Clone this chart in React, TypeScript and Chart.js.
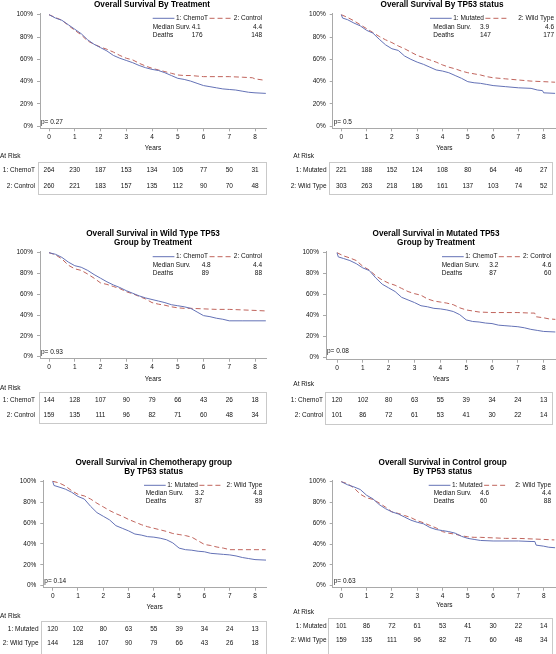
import React, { useEffect, useRef } from "react";
import { Chart, registerables } from "chart.js";

Chart.register(...registerables);

const FONT = '"Liberation Sans", Arial, Helvetica, sans-serif';
const BLUE = "#6472b6";
const RED = "#c0645c";
const AXIS = "#a9a9a9";
const TXT = "#111111";

// ---------- tick labels ----------
const yearTicks = [0, 1, 2, 3, 4, 5, 6, 7, 8];
const pctTicks = [0, 20, 40, 60, 80, 100];

// ---------- survival curves (years, % surviving) ----------
const allChemoT_t = [0, 0.25, 0.5, 0.75, 1, 1.25, 1.5, 1.75, 2, 2.25, 2.5, 2.75, 3, 3.25, 3.5, 3.75, 4, 4.25, 4.5, 4.75, 5, 5.25, 5.5, 5.75, 6, 6.25, 6.5, 6.75, 7, 7.25, 7.5, 7.75, 8, 8.42];
const allChemoT_s = [100, 97, 95, 91, 87, 83, 77.5, 73.5, 70.5, 67.5, 63.5, 61, 59, 57, 54.5, 52.5, 51, 50, 48, 45.5, 43, 42, 40.5, 38.5, 36.5, 35.5, 34.5, 33.5, 33, 32.5, 31.5, 30.5, 30, 29.5];

const allControl_t = [0, 0.25, 0.5, 0.75, 1, 1.25, 1.5, 1.75, 2, 2.25, 2.5, 2.75, 3, 3.25, 3.5, 3.75, 4, 4.25, 4.5, 4.75, 5, 5.25, 5.5, 5.75, 6, 6.5, 7, 7.5, 7.9, 8, 8.3];
const allControl_s = [100, 97.5, 95, 90.5, 86, 82, 76.5, 73.5, 71, 69, 66.5, 63.5, 61, 59.5, 56.5, 54, 52, 50.5, 49, 47.5, 46, 45.5, 45.5, 45, 44.5, 44.5, 44.5, 44, 43.5, 42.5, 41.5];

const allMutated_t = [0, 0.05, 0.25, 0.5, 0.75, 1, 1.25, 1.5, 1.75, 2, 2.25, 2.5, 2.75, 3, 3.25, 3.5, 3.75, 4, 4.25, 4.5, 4.75, 5, 5.25, 5.5, 5.75, 6, 6.5, 7, 7.5, 7.75, 7.95, 8, 8.45];
const allMutated_s = [100, 97, 95.5, 92.5, 90, 86, 83.5, 78, 73, 69.5, 68, 63, 60, 57.5, 55.5, 53, 50.5, 49.5, 48, 45.5, 43, 40, 39, 38.5, 37.5, 36.5, 35.5, 34.5, 34, 32.5, 32, 30, 29.5];

const allWild_t = [0, 0.25, 0.5, 0.75, 1, 1.25, 1.5, 1.75, 2, 2.25, 2.5, 2.75, 3, 3.25, 3.5, 3.75, 4, 4.25, 4.5, 4.75, 5, 5.25, 5.5, 5.75, 6, 6.5, 7, 7.5, 8, 8.45];
const allWild_s = [100, 97.5, 94.5, 91, 87.5, 84, 80.5, 77.5, 75, 72, 69.5, 66.5, 63.5, 61.5, 59.5, 57.5, 55, 53, 51.5, 49.5, 48, 47, 46, 44.5, 43.5, 42.5, 41.5, 40.5, 40, 39.5];

const wtChemoT_t = [0, 0.25, 0.5, 0.75, 1, 1.25, 1.5, 1.75, 2, 2.25, 2.5, 2.75, 3, 3.25, 3.5, 3.75, 4, 4.25, 4.5, 4.75, 5, 5.25, 5.5, 5.75, 6, 6.25, 6.5, 6.75, 7, 7.5, 8, 8.42];
const wtChemoT_s = [100, 98.5, 95.5, 91, 87.5, 86, 83, 79, 75.5, 72, 69, 66.5, 63.5, 61, 58.5, 56.5, 55, 53.5, 52, 50, 49, 48, 46.5, 43, 39.5, 38.5, 37, 36, 34.5, 34.5, 34.5, 34.5];

const wtControl_t = [0, 0.25, 0.5, 0.75, 1, 1.25, 1.5, 1.75, 2, 2.25, 2.5, 2.75, 3, 3.25, 3.5, 3.75, 4, 4.25, 4.5, 4.75, 5, 5.25, 5.5, 6, 6.5, 7, 7.5, 8, 8.42];
const wtControl_s = [100, 98, 94, 88, 84.5, 83, 79.5, 75.5, 71, 69.5, 67.5, 65.5, 62.5, 60.5, 58, 55.5, 52, 50.5, 49.5, 48, 47, 46.5, 46.5, 46, 45.5, 45.5, 45, 44.5, 44];

const mutChemoT_t = [0, 0.05, 0.25, 0.5, 0.75, 1, 1.25, 1.5, 1.75, 2, 2.25, 2.5, 2.75, 3, 3.25, 3.5, 3.75, 4, 4.25, 4.5, 4.75, 5, 5.25, 5.5, 5.75, 6, 6.25, 6.5, 6.75, 7, 7.25, 7.5, 7.75, 8, 8.45];
const mutChemoT_s = [100, 96, 94.5, 92.5, 89.5, 85.5, 83, 76, 70, 66.5, 63, 57.5, 55, 52.5, 49.5, 48.5, 47, 46.5, 45.5, 44, 41, 36, 34.5, 34, 33, 32.5, 31, 30.5, 30, 29.5, 28.5, 27, 26, 25, 24.5];

const mutControl_t = [0, 0.25, 0.5, 0.75, 1, 1.25, 1.5, 1.75, 2, 2.25, 2.5, 2.75, 3, 3.25, 3.5, 3.75, 4, 4.25, 4.5, 4.75, 5, 5.25, 5.5, 6, 7, 7.5, 7.65, 7.7, 8, 8.2, 8.45];
const mutControl_s = [100, 97, 95, 92.5, 87, 83.5, 78, 74, 71, 69, 66, 63, 61, 59.5, 56, 54, 53, 52, 50.5, 47.5, 45.5, 44.5, 43.5, 43, 43, 42.5, 42.5, 39, 38, 37, 36.5];

// ---------- at-risk counts ----------
const riskAllChemoT = [264, 230, 187, 153, 134, 105, 77, 50, 31];
const riskAllControl = [260, 221, 183, 157, 135, 112, 90, 70, 48];
const riskAllMutated = [221, 188, 152, 124, 108, 80, 64, 46, 27];
const riskAllWild = [303, 263, 218, 186, 161, 137, 103, 74, 52];
const riskWtChemoT = [144, 128, 107, 90, 79, 66, 43, 26, 18];
const riskWtControl = [159, 135, 111, 96, 82, 71, 60, 48, 34];
const riskMutChemoT = [120, 102, 80, 63, 55, 39, 34, 24, 13];
const riskMutControl = [101, 86, 72, 61, 53, 41, 30, 22, 14];

// ---------- summary statistics ----------
const mediansP1 = ["4.1", "4.4"];
const deathsP1 = ["176", "148"];
const mediansP2 = ["3.9", "4.6"];
const deathsP2 = ["147", "177"];
const mediansP3 = ["4.8", "4.4"];
const deathsP3 = ["89", "88"];
const mediansP4 = ["3.2", "4.6"];
const deathsP4 = ["87", "60"];
const mediansP5 = ["3.2", "4.8"];
const deathsP5 = ["87", "89"];
const mediansP6 = ["4.6", "4.4"];
const deathsP6 = ["60", "88"];
const pValues = ["p= 0.27", "p= 0.5", "p= 0.93", "p= 0.08", "p= 0.14", "p= 0.63"];

const treatLabels = ["1: ChemoT", "2: Control"];
const tp53Labels = ["1: Mutated", "2: Wild Type"];

// ---------- layout (page coordinates) ----------
type Geo = {
  cx: number; cy: number; cw: number; ch: number;
  plotL: number; plotR: number; y100: number; y0: number; x0: number; x8: number;
  titleX: number; titleY: number;
  legLineX: number; legX: number; valX: number; legR: number; legY: number; medY: number; deathY: number;
  pY: number; atRiskX: number; atRiskY: number;
  boxL: number; boxR: number; boxT: number; boxB: number; row1Y: number; row2Y: number; rowLabelR: number;
  tickY: number; yearsY: number;
};

const geoP1: Geo = { cx: 0, cy: 0, cw: 280, ch: 210, plotL: 40, plotR: 266, y100: 14.7, y0: 126.3, x0: 49, x8: 255, titleX: 152, titleY: 4.5, legLineX: 152.7, legX: 152.7, valX: 191.7, legR: 262, legY: 18.3, medY: 27.3, deathY: 35.3, pY: 122.3, atRiskX: 0, atRiskY: 156.7, boxL: 37.7, boxR: 265.7, boxT: 162.3, boxB: 194.3, row1Y: 170.7, row2Y: 186.3, rowLabelR: 35, tickY: 137, yearsY: 148.7 };
const geoP2: Geo = { cx: 280, cy: 0, cw: 290, ch: 210, plotL: 332.7, plotR: 556, y100: 14.7, y0: 126.3, x0: 341.3, x8: 543.7, titleX: 442, titleY: 4.5, legLineX: 430, legX: 433.3, valX: 480, legR: 554, legY: 18.3, medY: 27.3, deathY: 35.3, pY: 122, atRiskX: 293.3, atRiskY: 156.7, boxL: 329, boxR: 552, boxT: 162.3, boxB: 194.3, row1Y: 170.7, row2Y: 186.3, rowLabelR: 326.5, tickY: 137, yearsY: 148.7 };
const geoP3: Geo = { cx: 0, cy: 210, cw: 280, ch: 220, plotL: 40, plotR: 266, y100: 252.7, y0: 356.7, x0: 49, x8: 255, titleX: 153, titleY: 233.3, legLineX: 152.7, legX: 152.7, valX: 201.7, legR: 262, legY: 256.7, medY: 265.7, deathY: 273.3, pY: 352, atRiskX: 0, atRiskY: 388.3, boxL: 38.5, boxR: 265.7, boxT: 392.3, boxB: 423.3, row1Y: 400.3, row2Y: 415.3, rowLabelR: 35, tickY: 367, yearsY: 379.3 };
const geoP4: Geo = { cx: 280, cy: 210, cw: 290, ch: 220, plotL: 326, plotR: 556, y100: 252.7, y0: 357.7, x0: 337, x8: 543.7, titleX: 436, titleY: 233.3, legLineX: 442, legX: 441.7, valX: 489.3, legR: 551.3, legY: 256.7, medY: 265.7, deathY: 273.3, pY: 351.7, atRiskX: 293.3, atRiskY: 384.3, boxL: 325.3, boxR: 552, boxT: 391.7, boxB: 424, row1Y: 400.3, row2Y: 415.3, rowLabelR: 323, tickY: 368.3, yearsY: 379.3 };
const geoP5: Geo = { cx: 0, cy: 440, cw: 280, ch: 214, plotL: 43.3, plotR: 266, y100: 481.3, y0: 585.7, x0: 52.7, x8: 255, titleX: 153.7, titleY: 462.3, legLineX: 144, legX: 145.7, valX: 195, legR: 262.3, legY: 485.3, medY: 493.7, deathY: 501.7, pY: 581.3, atRiskX: 0, atRiskY: 616.7, boxL: 40.7, boxR: 265.7, boxT: 621, boxB: 653.5, row1Y: 629, row2Y: 643.7, rowLabelR: 38.5, tickY: 596, yearsY: 607.7 };
const geoP6: Geo = { cx: 280, cy: 440, cw: 290, ch: 214, plotL: 332.7, plotR: 556, y100: 481.7, y0: 585.7, x0: 341.3, x8: 543.7, titleX: 442.7, titleY: 462.3, legLineX: 428.7, legX: 433.7, valX: 480, legR: 551, legY: 485.3, medY: 493.7, deathY: 501.7, pY: 581, atRiskX: 293.3, atRiskY: 612.7, boxL: 328.3, boxR: 552, boxT: 617.7, boxB: 653.5, row1Y: 626, row2Y: 640.7, rowLabelR: 326.5, tickY: 596, yearsY: 605.7 };

type Panel = {
  title: string[];
  labels: string[];
  c1t: number[]; c1s: number[]; c2t: number[]; c2s: number[];
  risk1: number[]; risk2: number[];
  medians: string[]; deaths: string[]; p: string; geo: Geo;
};

const panels: Panel[] = [
  { title: ["Overall Survival By Treatment"], labels: treatLabels, c1t: allChemoT_t, c1s: allChemoT_s, c2t: allControl_t, c2s: allControl_s, risk1: riskAllChemoT, risk2: riskAllControl, medians: mediansP1, deaths: deathsP1, p: pValues[0], geo: geoP1 },
  { title: ["Overall Survival By TP53 status"], labels: tp53Labels, c1t: allMutated_t, c1s: allMutated_s, c2t: allWild_t, c2s: allWild_s, risk1: riskAllMutated, risk2: riskAllWild, medians: mediansP2, deaths: deathsP2, p: pValues[1], geo: geoP2 },
  { title: ["Overall Survival in Wild Type TP53", "Group by Treatment"], labels: treatLabels, c1t: wtChemoT_t, c1s: wtChemoT_s, c2t: wtControl_t, c2s: wtControl_s, risk1: riskWtChemoT, risk2: riskWtControl, medians: mediansP3, deaths: deathsP3, p: pValues[2], geo: geoP3 },
  { title: ["Overall Survival in Mutated TP53", "Group by Treatment"], labels: treatLabels, c1t: mutChemoT_t, c1s: mutChemoT_s, c2t: mutControl_t, c2s: mutControl_s, risk1: riskMutChemoT, risk2: riskMutControl, medians: mediansP4, deaths: deathsP4, p: pValues[3], geo: geoP4 },
  { title: ["Overall Survival in Chemotherapy group", "By TP53 status"], labels: tp53Labels, c1t: mutChemoT_t, c1s: mutChemoT_s, c2t: wtChemoT_t, c2s: wtChemoT_s, risk1: riskMutChemoT, risk2: riskWtChemoT, medians: mediansP5, deaths: deathsP5, p: pValues[4], geo: geoP5 },
  { title: ["Overall Survival in Control group", "By TP53 status"], labels: tp53Labels, c1t: mutControl_t, c1s: mutControl_s, c2t: wtControl_t, c2s: wtControl_s, risk1: riskMutControl, risk2: riskWtControl, medians: mediansP6, deaths: deathsP6, p: pValues[5], geo: geoP6 },
];

const FS = 6.5;
const LH = FS * 1.2;
const TL = 3;

const kmExtras = {
  id: "kmExtras",
  afterDraw(chart: any, _args: any, opts: any) {
    const panel: Panel = opts.panel;
    if (!panel) return;
    const g = panel.geo;
    const ctx: CanvasRenderingContext2D = chart.ctx;
    const X = (v: number) => v - g.cx;
    const Y = (v: number) => v - g.cy;
    const xs = chart.scales.x;
    ctx.save();
    ctx.textBaseline = "middle";
    // title
    ctx.fillStyle = "#000";
    ctx.font = `bold 8.2px ${FONT}`;
    ctx.textAlign = "center";
    panel.title.forEach((line, i) => ctx.fillText(line, X(g.titleX), Y(g.titleY + i * 9.4)));

    // legend
    ctx.font = `${FS}px ${FONT}`;
    ctx.fillStyle = TXT;
    const lineLen = 21.7;
    ctx.lineWidth = 1;
    ctx.strokeStyle = BLUE;
    ctx.setLineDash([]);
    ctx.beginPath();
    ctx.moveTo(X(g.legLineX), Y(g.legY));
    ctx.lineTo(X(g.legLineX + lineLen), Y(g.legY));
    ctx.stroke();
    ctx.textAlign = "left";
    const l1x = g.legLineX + lineLen + 1.5;
    ctx.fillText(panel.labels[0], X(l1x), Y(g.legY));
    const l1w = ctx.measureText(panel.labels[0]).width;
    const r0 = l1x + l1w + 1.5;
    ctx.strokeStyle = RED;
    ctx.setLineDash([5, 3]);
    ctx.beginPath();
    ctx.moveTo(X(r0), Y(g.legY));
    ctx.lineTo(X(r0 + lineLen), Y(g.legY));
    ctx.stroke();
    ctx.setLineDash([]);
    ctx.textAlign = "right";
    ctx.fillText(panel.labels[1], X(g.legR), Y(g.legY));

    ctx.textAlign = "left";
    ctx.fillText("Median Surv.", X(g.legX), Y(g.medY));
    ctx.fillText("Deaths", X(g.legX), Y(g.deathY));
    ctx.fillText(panel.medians[0], X(g.valX), Y(g.medY));
    ctx.fillText(panel.deaths[0], X(g.valX), Y(g.deathY));
    ctx.textAlign = "right";
    ctx.fillText(panel.medians[1], X(g.legR), Y(g.medY));
    ctx.fillText(panel.deaths[1], X(g.legR), Y(g.deathY));

    // p-value
    ctx.textAlign = "left";
    ctx.fillText(panel.p, X(g.plotL + 1), Y(g.pY));

    // at risk table
    ctx.fillText("At Risk", X(g.atRiskX), Y(g.atRiskY));
    ctx.strokeStyle = "#c9c9c9";
    ctx.lineWidth = 1;
    ctx.strokeRect(Math.round(X(g.boxL)) + 0.5, Math.round(Y(g.boxT)) + 0.5, Math.round(g.boxR - g.boxL), Math.round(g.boxB - g.boxT));
    ctx.textAlign = "right";
    ctx.fillText(panel.labels[0], X(g.rowLabelR), Y(g.row1Y));
    ctx.fillText(panel.labels[1], X(g.rowLabelR), Y(g.row2Y));
    ctx.textAlign = "center";
    yearTicks.forEach((t, i) => {
      const px = xs.getPixelForValue(t);
      ctx.fillText(String(panel.risk1[i]), px, Y(g.row1Y));
      ctx.fillText(String(panel.risk2[i]), px, Y(g.row2Y));
    });
    ctx.restore();
  },
};

function KMPanel({ panel }: { panel: Panel }) {
  const ref = useRef<HTMLCanvasElement>(null);
  const g = panel.geo;
  useEffect(() => {
    if (!ref.current) return;
    const ppy = (g.x8 - g.x0) / 8;
    const xmin = (g.plotL - g.x0) / ppy;
    const xmax = (g.plotR - g.x0) / ppy;
    const chartTop = g.y100 - 1;
    const chartBottom = g.y0 + 2;
    const ppu = (g.y0 - g.y100) / 100;
    const ymin = -(chartBottom - g.y0) / ppu;
    const ymax = 100 + (g.y100 - chartTop) / ppu;
    const xAxisH = g.yearsY + LH / 2 - chartBottom;
    const xTickPad = Math.max(0, g.tickY - LH / 2 - chartBottom - TL);
    const pts = (t: number[], s: number[]) => t.map((v, i) => ({ x: v, y: s[i] }));

    const chart = new Chart(ref.current, {
      type: "line",
      data: {
        datasets: [
          { label: panel.labels[0], data: pts(panel.c1t, panel.c1s), borderColor: BLUE, borderWidth: 1, pointRadius: 0, fill: false, tension: 0 },
          { label: panel.labels[1], data: pts(panel.c2t, panel.c2s), borderColor: RED, borderWidth: 1, borderDash: [5, 3], pointRadius: 0, fill: false, tension: 0 },
        ],
      },
      options: {
        responsive: false,
        animation: false,
        devicePixelRatio: 1,
        events: [],
        layout: {
          padding: {
            left: 0,
            top: chartTop - g.cy,
            right: g.cx + g.cw - g.plotR,
            bottom: g.cy + g.ch - chartBottom - xAxisH,
          },
        },
        plugins: {
          legend: { display: false },
          tooltip: { enabled: false },
          title: { display: false },
          kmExtras: { panel },
        } as any,
        scales: {
          x: {
            type: "linear",
            min: xmin,
            max: xmax,
            afterBuildTicks: (s: any) => { s.ticks = yearTicks.map((v) => ({ value: v })); },
            afterFit: (s: any) => { s.height = xAxisH; },
            ticks: { font: { family: FONT, size: FS }, color: TXT, padding: xTickPad, autoSkip: false, maxRotation: 0, includeBounds: false },
            grid: { display: true, drawOnChartArea: false, drawTicks: true, tickLength: TL, color: AXIS },
            border: { display: true, color: AXIS, width: 1 },
            title: { display: true, text: "Years", font: { family: FONT, size: FS }, color: TXT, padding: 0 },
          },
          y: {
            type: "linear",
            min: ymin,
            max: ymax,
            afterBuildTicks: (s: any) => { s.ticks = pctTicks.map((v) => ({ value: v })); },
            afterFit: (s: any) => { s.width = g.plotL - g.cx; },
            ticks: { font: { family: FONT, size: FS }, color: TXT, padding: 4, callback: (v: any) => `${v}%`, includeBounds: false },
            grid: { display: true, drawOnChartArea: false, drawTicks: true, tickLength: TL, color: AXIS },
            border: { display: true, color: AXIS, width: 1 },
          },
        },
      } as any,
      plugins: [kmExtras],
    });
    return () => chart.destroy();
  }, []);
  return (
    <canvas
      ref={ref}
      width={g.cw}
      height={g.ch}
      style={{ position: "absolute", left: g.cx, top: g.cy, width: g.cw, height: g.ch }}
    />
  );
}

export default function App() {
  return (
    <div style={{ position: "fixed", left: 0, top: 0, width: 556, height: 654, overflow: "hidden", background: "#ffffff" }}>
      {panels.map((p, i) => (
        <KMPanel key={i} panel={p} />
      ))}
    </div>
  );
}
